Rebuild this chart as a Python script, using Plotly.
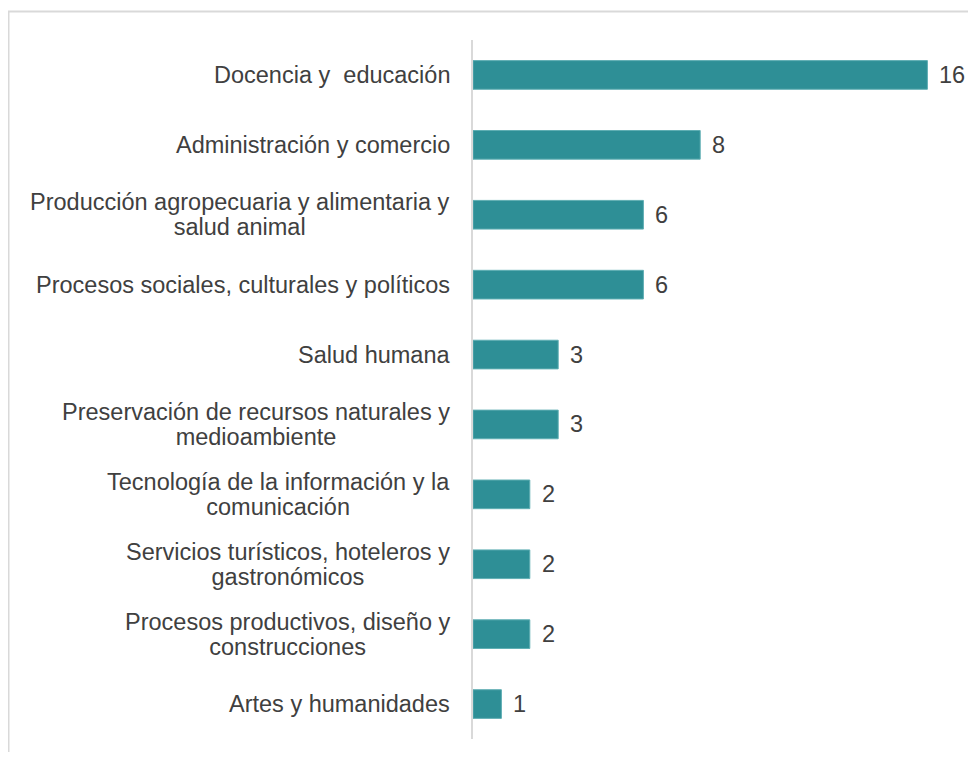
import plotly.graph_objects as go

# datos
categorias = [
    ["Docencia y  educación"],
    ["Administración y comercio"],
    ["Producción agropecuaria y alimentaria y", "salud animal"],
    ["Procesos sociales, culturales y políticos"],
    ["Salud humana"],
    ["Preservación de recursos naturales y", "medioambiente"],
    ["Tecnología de la información y la", "comunicación"],
    ["Servicios turísticos, hoteleros y", "gastronómicos"],
    ["Procesos productivos, diseño y", "construcciones"],
    ["Artes y humanidades"],
]
valores = [16, 8, 6, 6, 3, 3, 2, 2, 2, 1]

# la pagina tiene 8px de margen en el body -> figura un poco mas chica
W, H = 960, 744
ML, MR, MT, MB = 465, 0, 32, 13
PX_POR_UNIDAD = 28.4
COLOR_BARRA = "#2E8F96"
COLOR_TEXTO = "#404040"
FUENTE = "Liberation Sans, Arial, sans-serif"
TAM = 23.5
TAM_BASE = 19  # controla el interlineado (1.3em)

ids = list(range(len(categorias)))

fig = go.Figure()
fig.add_trace(go.Bar(
    x=valores,
    y=ids,
    orientation="h",
    width=0.41,
    marker=dict(color=COLOR_BARRA, line=dict(color="#5FAEB3", width=1)),
    hoverinfo="x",
))


def grande(t):
    return f"<span style='font-size:{TAM}px'>{t}</span>"


# etiquetas de categoria (centradas, como en el original)
for i, lineas in zip(ids, categorias):
    fig.add_annotation(
        x=0, y=i, xref="x", yref="y", text="<br>".join(grande(l) for l in lineas),
        showarrow=False, xanchor="right", yanchor="middle", align="center",
        xshift=-21, font=dict(family=FUENTE, size=TAM_BASE, color=COLOR_TEXTO),
    )
# valores
for i, v in zip(ids, valores):
    fig.add_annotation(
        x=v, y=i, xref="x", yref="y", text=str(v), showarrow=False,
        xanchor="left", yanchor="middle", xshift=10,
        font=dict(family=FUENTE, size=TAM, color=COLOR_TEXTO),
    )

pw = W - ML - MR
ph = H - MT - MB
# marco gris del grafico
fig.add_shape(
    type="rect", xref="paper", yref="paper",
    x0=(0.5 - ML) / pw, x1=(W + 20 - ML) / pw,
    y0=-(MB + 20) / ph, y1=1 + (MT - 3.5) / ph,
    line=dict(color="#D9D9D9", width=2), layer="below",
)

fig.update_layout(
    width=W, height=H,
    margin=dict(l=ML, r=MR, t=MT, b=MB),
    plot_bgcolor="white", paper_bgcolor="white",
    showlegend=False, bargap=0.59,
    font=dict(family=FUENTE, size=TAM, color=COLOR_TEXTO),
)
fig.update_xaxes(range=[0, pw / PX_POR_UNIDAD], visible=False, fixedrange=True)
fig.update_yaxes(
    range=[len(categorias) - 0.5, -0.5], showticklabels=False, ticks="",
    showgrid=False, zeroline=False, showline=True, linecolor="#D9D9D9",
    linewidth=2, fixedrange=True,
)

fig.write_html("out.html")
